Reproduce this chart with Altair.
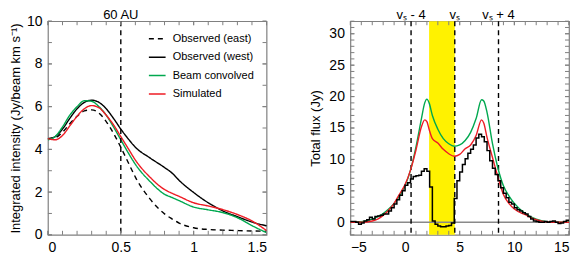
import altair as alt
import pandas as pd
import numpy as np

FONT = "Liberation Sans"
FRAME = "#808080"

# ---------------- left panel data ----------------
radius = [0, 0.05, 0.1, 0.15, 0.2, 0.25, 0.3, 0.35, 0.4, 0.45, 0.5, 0.55, 0.6,
          0.7, 0.8, 0.85, 0.9, 1.0, 1.1, 1.2, 1.3, 1.4, 1.5]
obs_east = [4.5, 4.55, 4.8, 5.2, 5.55, 5.8, 5.85, 5.7, 5.3, 4.75, 4.1, 3.4, 2.7,
            1.68, 0.98, 0.75, 0.55, 0.33, 0.25, 0.22, 0.2, 0.18, 0.17]
obs_west = [4.5, 4.6, 4.95, 5.45, 5.9, 6.2, 6.3, 6.2, 5.9, 5.45, 4.95, 4.5, 4.1,
            3.6, 3.15, 2.9, 2.55, 1.98, 1.5, 1.12, 0.85, 0.6, 0.42]
beam_conv = [4.45, 4.6, 5.05, 5.6, 6.0, 6.28, 6.25, 6.0, 5.6, 5.05, 4.45, 3.85, 3.3,
             2.5, 1.9, 1.75, 1.6, 1.3, 1.17, 1.04, 0.8, 0.43, 0.1]
simulated = [4.5, 4.45, 4.65, 5.1, 5.55, 5.9, 6.05, 5.95, 5.6, 5.15, 4.6, 4.05, 3.5,
             2.7, 2.12, 1.95, 1.8, 1.5, 1.35, 1.18, 0.95, 0.65, 0.2]
series_names = ["Observed (east)", "Observed (west)", "Beam convolved", "Simulated"]
series_colors = ["#000000", "#000000", "#00a84f", "#ee1c24"]
series_dashes = [[5, 4], [1, 0], [1, 0], [1, 0]]
au_line = [0.5]
au_label = ["60 AU"]

# ---------------- right panel data ----------------
vel = [-5, -4, -3, -2.5, -2, -1.5, -1, -0.5, 0, 0.5, 1, 1.5, 1.8, 2, 2.2, 2.5, 3,
       3.5, 4, 4.5, 5, 5.5, 6, 6.5, 7, 7.2, 7.5, 8, 8.5, 9, 9.5, 10, 11, 12, 13, 14, 15]
flux_beam = [0, 0.1, 0.5, 0.9, 1.4, 2.1, 3.0, 4.2, 5.8, 8.3, 12.0, 16.5, 19.0, 19.6,
             19.0, 17.0, 14.8, 13.3, 12.5, 12.1, 12.3, 13.0, 14.3, 16.5, 19.5, 19.3,
             17.5, 12.5, 8.6, 5.8, 4.2, 3.0, 1.4, 0.5, 0.1, 0.0, 0.1]
flux_sim = [0, 0, 0.2, 0.5, 1.1, 1.9, 3.0, 4.5, 6.0, 8.3, 11.5, 15.2, 16.3, 16.0,
            14.8, 13.3, 12.6, 11.6, 10.9, 10.5, 10.8, 11.7, 12.3, 13.8, 16.3, 15.8,
            13.5, 10.3, 7.2, 4.4, 3.0, 2.1, 1.2, 0.4, 0.05, 0.0, 0.0]
chan_vel = [round(-5 + 0.25 * i, 2) for i in range(81)]
flux_obs = [0.1, 0.1, 0.0, -0.3, -0.1, 0.2, 0.4, 0.8, 0.5, 0.9,
            1.0, 1.1, 1.3, 1.3, 1.8, 2.3, 2.9, 3.6, 4.3, 5.0,
            5.9, 6.3, 6.9, 7.3, 7.4, 7.5, 8.1, 8.5, 8.1, 5.6,
            0.2, -0.3, -0.6, -0.7, -0.7, -0.6, -0.5, -0.1, 3.8, 6.6,
            8.0, 9.2, 10.1, 11.0, 11.6, 12.3, 13.4, 14.0, 13.6, 12.8,
            11.4, 9.8, 8.6, 7.6, 6.6, 5.5, 4.6, 3.9, 3.2, 2.9,
            2.3, 2.0, 1.8, 1.5, 1.3, 0.9, 0.5, 0.2, 0.1, 0.0,
            0.0, 0.1, 0.0, 0.1, 0.2, 0.0, -0.2, -0.1, 0.1, 0.3, 0.3]
vel_lines = [0.55, 4.55, 8.55]
vel_labels = ["vₛ - 4", "vₛ", "vₛ + 4"]
band_start = [2.2]
band_end = [4.55]

W, H = 219, 214
TL = 4


def axis(title, vals, fmt, **kw):
    return alt.Axis(title=title, values=vals, format=fmt, ticks=False, domain=False,
                    grid=False, labelFontSize=14, labelFont=FONT, labelColor="black",
                    titleFont=FONT, titleFontSize=13, titleFontWeight="normal",
                    titleColor="black", labelPadding=6, **kw)


def tick_layers(X, Y, xmaj, xmin, ymaj, ymin):
    layers = []
    for vals in (xmaj, xmin):
        d = pd.DataFrame({"t": vals})
        b = alt.Chart(d).mark_rule(color=FRAME, strokeWidth=1)
        layers.append(b.encode(x=X("t:Q"), y=alt.value(H), y2=alt.value(H - TL)))
        layers.append(b.encode(x=X("t:Q"), y=alt.value(0), y2=alt.value(TL)))
    for vals in (ymaj, ymin):
        d = pd.DataFrame({"t": vals})
        b = alt.Chart(d).mark_rule(color=FRAME, strokeWidth=1)
        layers.append(b.encode(y=Y("t:Q"), x=alt.value(0), x2=alt.value(TL)))
        layers.append(b.encode(y=Y("t:Q"), x=alt.value(W), x2=alt.value(W - TL)))
    return layers


# ---------------- left chart ----------------
xs_l = alt.Scale(domain=[0, 1.5], nice=False, zero=False)
ys_l = alt.Scale(domain=[0, 10], nice=False, zero=False)
ax_xl = axis(None, [0, 0.5, 1, 1.5], "~g")
ax_yl = axis("Integrated intensity (Jy/beam km s⁻¹)", [0, 2, 4, 6, 8, 10], "d", titlePadding=4)


def XL(f):
    return alt.X(f, scale=xs_l, axis=ax_xl)


def YL(f):
    return alt.Y(f, scale=ys_l, axis=ax_yl)


rows = []
for name, vals in zip(series_names, [obs_east, obs_west, beam_conv, simulated]):
    for r, v in zip(radius, vals):
        rows.append({"r": r, "I": v, "series": name})
df_l = pd.DataFrame(rows)
df_l["order"] = df_l["series"].map({n: i for i, n in enumerate(series_names)})

leg = alt.Legend(title=None, orient="none", legendX=100, legendY=8,
                 symbolType="stroke", symbolSize=280, symbolStrokeWidth=1.5,
                 labelFont=FONT, labelFontSize=11, labelColor="black",
                 rowPadding=3.5, labelOffset=6)

lines_l = alt.Chart(df_l).mark_line(strokeWidth=1.4, interpolate="monotone").encode(
    x=XL("r:Q"), y=YL("I:Q"),
    color=alt.Color("series:N", scale=alt.Scale(domain=series_names, range=series_colors),
                    legend=leg),
    strokeDash=alt.StrokeDash("series:N", scale=alt.Scale(domain=series_names,
                                                          range=series_dashes), legend=leg),
    detail="series:N",
    order="order:Q",
)
au_df = pd.DataFrame({"r": au_line, "label": au_label})
vline_l = alt.Chart(au_df).mark_rule(color="black", strokeDash=[5, 4], strokeWidth=1.4).encode(
    x=XL("r:Q"))
text_l = alt.Chart(au_df).mark_text(font=FONT, fontSize=13, baseline="alphabetic",
                                    dy=-2, color="black").encode(
    x=XL("r:Q"), y=alt.value(0), text="label:N")

left = alt.layer(
    lines_l, vline_l,
    *tick_layers(XL, YL, [0, 0.5, 1, 1.5], list(np.round(np.arange(0, 1.51, 0.1), 2)),
                 [0, 2, 4, 6, 8, 10], list(range(0, 11))),
    text_l
).properties(width=W, height=H)

# ---------------- right chart ----------------
xs_r = alt.Scale(domain=[-5, 15], nice=False, zero=False)
ys_r = alt.Scale(domain=[-2, 32], nice=False, zero=False)
ax_xr = axis(None, [-5, 0, 5, 10, 15], "d")
ax_yr = axis("Total flux (Jy)", [0, 5, 10, 15, 20, 25, 30], "d", titlePadding=6)


def XR(f):
    return alt.X(f, scale=xs_r, axis=ax_xr)


def YR(f):
    return alt.Y(f, scale=ys_r, axis=ax_yr)


band_df = pd.DataFrame({"a": band_start, "b": band_end})
band = alt.Chart(band_df).mark_rect(color="#fff200").encode(
    x=XR("a:Q"), x2="b:Q", y=alt.value(0), y2=alt.value(H))
zero_df = pd.DataFrame({"y": [0]})
zero = alt.Chart(zero_df).mark_rule(color="#8a8a8a", strokeWidth=1.3).encode(
    y=YR("y:Q"), x=alt.value(0), x2=alt.value(W))
vl_df = pd.DataFrame({"v": vel_lines, "label": vel_labels})
vlines_r = alt.Chart(vl_df).mark_rule(color="black", strokeDash=[5, 4], strokeWidth=1.4).encode(
    x=XR("v:Q"))
vtext = alt.Chart(vl_df).mark_text(font=FONT, fontSize=13, baseline="alphabetic",
                                   dy=-2, color="black").encode(
    x=XR("v:Q"), y=alt.value(0), text="label:N")

mod_df = pd.DataFrame({"v": vel, "beam": flux_beam, "sim": flux_sim})
green = alt.Chart(mod_df).mark_line(color="#00a84f", strokeWidth=1.4,
                                    interpolate="monotone").encode(
    x=XR("v:Q"), y=YR("beam:Q"))
red = alt.Chart(mod_df).mark_line(color="#ee1c24", strokeWidth=1.4,
                                  interpolate="monotone").encode(
    x=XR("v:Q"), y=YR("sim:Q"))
obs_df = pd.DataFrame({"v": chan_vel, "f": flux_obs})
black = alt.Chart(obs_df).mark_line(color="black", strokeWidth=1.5,
                                    interpolate="step-after").encode(
    x=XR("v:Q"), y=YR("f:Q"))

right = alt.layer(
    band, zero,
    *tick_layers(XR, YR, [-5, 0, 5, 10, 15], list(range(-5, 16)),
                 [0, 5, 10, 15, 20, 25, 30], list(range(-2, 33))),
    vlines_r, green, red, black, vtext
).properties(width=W, height=H)

chart = alt.hconcat(left, right, spacing=38).properties(padding=0).configure_view(
    stroke=FRAME, strokeWidth=1.2
).configure_legend(labelLimit=200)

chart.save("out.html", embed_options={"renderer": "svg", "actions": False})
